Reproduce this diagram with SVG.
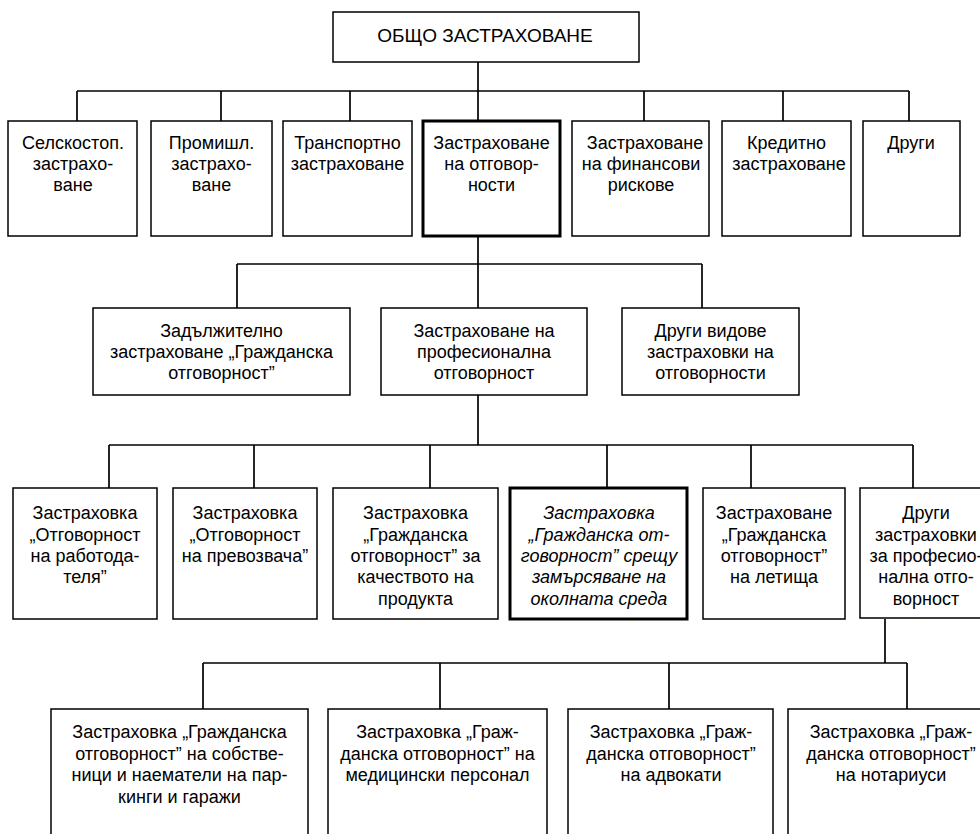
<svg xmlns="http://www.w3.org/2000/svg" width="980" height="834" viewBox="0 0 980 834">
<style>
.box{fill:#fff;stroke:#000;stroke-width:1.5}
.thick{fill:#fff;stroke:#000;stroke-width:3}
.conn line{stroke:#000;stroke-width:1.7}
text{font-family:"Liberation Sans",Arial,sans-serif;font-size:18px;fill:#000;text-anchor:middle}
.it{font-style:italic}
.big{font-size:19px}
</style>
<rect width="980" height="834" fill="#fff"/>
<g id="connectors" class="conn">
<line x1="478" y1="62" x2="478" y2="121"/>
<line x1="77" y1="91" x2="909" y2="91"/>
<line x1="77" y1="91" x2="77" y2="121"/>
<line x1="221" y1="91" x2="221" y2="121"/>
<line x1="350" y1="91" x2="350" y2="121"/>
<line x1="644" y1="91" x2="644" y2="121"/>
<line x1="783" y1="91" x2="783" y2="121"/>
<line x1="909" y1="91" x2="909" y2="121"/>
<line x1="478" y1="236" x2="478" y2="308"/>
<line x1="237" y1="264" x2="702" y2="264"/>
<line x1="237" y1="264" x2="237" y2="308"/>
<line x1="702" y1="264" x2="702" y2="308"/>
<line x1="478" y1="395" x2="478" y2="445"/>
<line x1="109" y1="445" x2="913" y2="445"/>
<line x1="109" y1="445" x2="109" y2="488"/>
<line x1="254" y1="445" x2="254" y2="488"/>
<line x1="430" y1="445" x2="430" y2="488"/>
<line x1="607" y1="445" x2="607" y2="488"/>
<line x1="751" y1="445" x2="751" y2="488"/>
<line x1="913" y1="445" x2="913" y2="488"/>
<line x1="885" y1="619" x2="885" y2="663"/>
<line x1="203" y1="663" x2="907" y2="663"/>
<line x1="203" y1="663" x2="203" y2="709"/>
<line x1="440" y1="663" x2="440" y2="709"/>
<line x1="669" y1="663" x2="669" y2="709"/>
<line x1="907" y1="663" x2="907" y2="709"/>
</g>
<g id="root"><rect class="box" x="333" y="12" width="306" height="50"/><text class="big" x="485" y="42">ОБЩО ЗАСТРАХОВАНЕ</text></g>
<g id="n-selsko"><rect class="box" x="8" y="121" width="129" height="115"/><text x="73" y="149">Селскостоп.</text><text x="73" y="170">застрахо-</text><text x="73" y="191">ване</text></g>
<g id="n-promishl"><rect class="box" x="151" y="121" width="121" height="115"/><text x="211.5" y="149">Промишл.</text><text x="211.5" y="170">застрахо-</text><text x="211.5" y="191">ване</text></g>
<g id="n-transport"><rect class="box" x="283" y="121" width="129" height="115"/><text x="347.5" y="149">Транспортно</text><text x="347.5" y="170">застраховане</text></g>
<g id="n-otgovornosti"><rect class="thick" x="423" y="121" width="137" height="115"/><text x="491.5" y="149">Застраховане</text><text x="491.5" y="170">на отговор-</text><text x="491.5" y="191">ности</text></g>
<g id="n-finansovi"><rect class="box" x="572" y="121" width="137" height="115"/><text x="645" y="149">Застраховане</text><text x="641" y="170">на финансови</text><text x="641" y="191">рискове</text></g>
<g id="n-kreditno"><rect class="box" x="722" y="121" width="129" height="115"/><text x="786.5" y="149">Кредитно</text><text x="789" y="170">застраховане</text></g>
<g id="n-drugi"><rect class="box" x="863" y="121" width="97" height="115"/><text x="911" y="149">Други</text></g>
<g id="n-zadalzh"><rect class="box" x="93" y="308" width="257" height="87"/><text x="221.5" y="337">Задължително</text><text x="221.5" y="358">застраховане „Гражданска</text><text x="221.5" y="379">отговорност”</text></g>
<g id="n-profesionalna"><rect class="box" x="381" y="308" width="206" height="87"/><text x="484" y="337">Застраховане на</text><text x="484" y="358">професионална</text><text x="484" y="379">отговорност</text></g>
<g id="n-drugi-vidove"><rect class="box" x="622" y="308" width="177" height="87"/><text x="710.5" y="337">Други видове</text><text x="710.5" y="358">застраховки на</text><text x="710.5" y="379">отговорности</text></g>
<g id="n-rabotodatel"><rect class="box" x="13" y="488" width="144" height="131"/><text x="85" y="519">Застраховка</text><text x="85" y="541">„Отговорност</text><text x="85" y="562">на работода-</text><text x="85" y="583">теля”</text></g>
<g id="n-prevozvach"><rect class="box" x="173" y="488" width="144" height="131"/><text x="245" y="519">Застраховка</text><text x="245" y="541">„Отговорност</text><text x="245" y="562">на превозвача”</text></g>
<g id="n-produkt"><rect class="box" x="333" y="488" width="165" height="131"/><text x="415.5" y="519">Застраховка</text><text x="415.5" y="541">„Гражданска</text><text x="415.5" y="562">отговорност” за</text><text x="415.5" y="583">качеството на</text><text x="415.5" y="605">продукта</text></g>
<g id="n-okolna"><rect class="thick" x="510" y="488" width="177" height="131"/><text class="it" x="599" y="519">Застраховка</text><text class="it" x="599" y="541">„Гражданска от-</text><text class="it" x="599" y="562">говорност” срещу</text><text class="it" x="599" y="583">замърсяване на</text><text class="it" x="599" y="605">околната среда</text></g>
<g id="n-letishta"><rect class="box" x="703" y="488" width="142" height="131"/><text x="774" y="519">Застраховане</text><text x="774" y="541">„Гражданска</text><text x="774" y="562">отговорност”</text><text x="774" y="583">на летища</text></g>
<g id="n-drugi-prof"><rect class="box" x="860" y="488" width="150" height="130"/><text x="926" y="519">Други</text><text x="926" y="541">застраховки</text><text x="926" y="562">за професио-</text><text x="926" y="583">нална отго-</text><text x="926" y="605">ворност</text></g>
<g id="n-parkingi"><rect class="box" x="51" y="709" width="257" height="140"/><text x="179.5" y="738">Застраховка „Гражданска</text><text x="179.5" y="760">отговорност” на собстве-</text><text x="179.5" y="781">ници и наематели на пар-</text><text x="179.5" y="803">кинги и гаражи</text></g>
<g id="n-medicinski"><rect class="box" x="328" y="709" width="219" height="140"/><text x="437.5" y="738">Застраховка „Граж-</text><text x="437.5" y="760">данска отговорност” на</text><text x="437.5" y="781">медицински персонал</text></g>
<g id="n-advokati"><rect class="box" x="568" y="709" width="205" height="140"/><text x="671" y="738">Застраховка „Граж-</text><text x="671" y="760">данска отговорност”</text><text x="671" y="781">на адвокати</text></g>
<g id="n-notariusi"><rect class="box" x="788" y="709" width="210" height="140"/><text x="891" y="738">Застраховка „Граж-</text><text x="891" y="760">данска отговорност”</text><text x="891" y="781">на нотариуси</text></g>
</svg>
